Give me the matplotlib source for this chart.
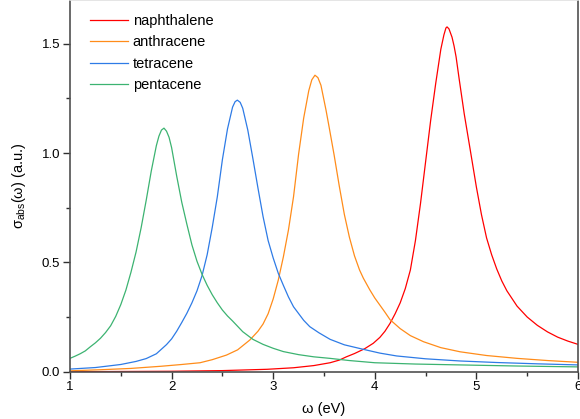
import matplotlib
matplotlib.use('Agg')
import matplotlib.pyplot as plt
from matplotlib.ticker import MultipleLocator, FormatStrFormatter

plt.rcParams['font.family'] = ['Liberation Sans', 'DejaVu Sans']
plt.rcParams['mathtext.fontset'] = 'custom'
plt.rcParams['mathtext.rm'] = 'Liberation Sans'
plt.rcParams['mathtext.it'] = 'Liberation Sans:italic'

# values
naph_x = [1.0, 1.5, 2.0, 2.5, 2.94, 3.2, 3.4, 3.56, 3.65, 3.72, 3.80, 3.90, 3.985, 4.05, 4.10, 4.15,
          4.20, 4.25, 4.30, 4.35, 4.40, 4.45, 4.50, 4.55, 4.60, 4.65, 4.68, 4.70, 4.711, 4.73,
          4.76, 4.78, 4.80, 4.83, 4.88, 4.937, 5.0, 5.05, 5.1, 5.15, 5.2, 5.25, 5.3, 5.4, 5.5,
          5.6, 5.7, 5.8, 5.9, 6.0]
naph_y = [0.0, 0.001, 0.002, 0.005, 0.011, 0.018, 0.028, 0.041, 0.053, 0.068, 0.083, 0.105, 0.13, 0.157, 0.185, 0.221,
          0.265, 0.315, 0.38, 0.465, 0.60, 0.77, 0.96, 1.15, 1.32, 1.475, 1.54, 1.572, 1.577, 1.568,
          1.53, 1.49, 1.44, 1.34, 1.18, 1.021, 0.844, 0.718, 0.612, 0.535, 0.47, 0.415, 0.37, 0.30, 0.25,
          0.212, 0.182, 0.158, 0.14, 0.125]

anth_x = [1.0, 1.3, 1.6, 1.9, 2.1, 2.28, 2.4, 2.54, 2.65, 2.77, 2.85, 2.90, 2.95, 3.00, 3.05, 3.10,
          3.15, 3.20, 3.25, 3.30, 3.35, 3.38, 3.411, 3.44, 3.47, 3.52, 3.55, 3.60, 3.65, 3.70,
          3.75, 3.80, 3.85, 3.887, 3.95, 4.0, 4.1, 4.15, 4.25, 4.35, 4.48, 4.65, 4.84, 5.1,
          5.4, 5.7, 6.0]
anth_y = [0.004, 0.009, 0.015, 0.025, 0.033, 0.041, 0.055, 0.076, 0.10, 0.145, 0.185, 0.218, 0.265, 0.333, 0.419, 0.525,
          0.648, 0.80, 0.995, 1.16, 1.285, 1.335, 1.356, 1.345, 1.31, 1.196, 1.12, 0.99, 0.85, 0.72,
          0.615, 0.53, 0.465, 0.428, 0.375, 0.337, 0.272, 0.238, 0.197, 0.165, 0.137, 0.11, 0.091, 0.074,
          0.061, 0.051, 0.043]

tetr_x = [1.0, 1.25, 1.5, 1.65, 1.75, 1.85, 1.95, 2.00, 2.05, 2.10, 2.15, 2.20, 2.25, 2.30, 2.35, 2.40,
          2.45, 2.50, 2.55, 2.60, 2.625, 2.647, 2.675, 2.70, 2.75, 2.80, 2.85, 2.90, 2.95, 3.00,
          3.05, 3.10, 3.15, 3.20, 3.30, 3.36, 3.45, 3.56, 3.7, 3.89, 4.05, 4.215, 4.5, 4.84,
          5.2, 5.6, 6.0]
tetr_y = [0.012, 0.019, 0.033, 0.047, 0.06, 0.082, 0.124, 0.15, 0.185, 0.225, 0.267, 0.315, 0.37, 0.44, 0.535, 0.66,
          0.80, 0.97, 1.11, 1.21, 1.235, 1.242, 1.232, 1.205, 1.105, 0.975, 0.84, 0.71, 0.60, 0.52,
          0.45, 0.395, 0.342, 0.297, 0.235, 0.206, 0.178, 0.148, 0.123, 0.102, 0.085, 0.072, 0.059, 0.049,
          0.042, 0.036, 0.031]

pent_x = [1.0, 1.05, 1.10, 1.15, 1.20, 1.25, 1.30, 1.35, 1.40, 1.45, 1.50, 1.55, 1.60, 1.65, 1.70, 1.75,
          1.80, 1.85, 1.875, 1.90, 1.925, 1.95, 1.975, 2.00, 2.05, 2.10, 2.15, 2.20, 2.25, 2.30,
          2.35, 2.40, 2.45, 2.50, 2.55, 2.60, 2.70, 2.80, 2.90, 3.0, 3.1, 3.25, 3.4, 3.559,
          3.75, 4.0, 4.4, 4.84, 5.4, 6.0]
pent_y = [0.061, 0.071, 0.082, 0.095, 0.114, 0.132, 0.153, 0.179, 0.21, 0.253, 0.307, 0.373, 0.455, 0.547, 0.658, 0.784,
          0.918, 1.034, 1.077, 1.105, 1.114, 1.10, 1.072, 1.025, 0.895, 0.775, 0.675, 0.58, 0.505, 0.445,
          0.395, 0.352, 0.315, 0.282, 0.255, 0.232, 0.183, 0.148, 0.125, 0.107, 0.092, 0.078, 0.068, 0.061,
          0.051, 0.041, 0.035, 0.031, 0.026, 0.022]

names = ['naphthalene', 'anthracene', 'tetracene', 'pentacene']
colors = ['#ff0000', '#ff8c1a', '#2e7be6', '#3cb371']

fig = plt.figure(figsize=(5.8, 4.19), dpi=100)
ax = fig.add_axes([70 / 580, 1 - 371.7 / 419, 508 / 580, 371.7 / 419])

series = [(naph_x, naph_y), (anth_x, anth_y), (tetr_x, tetr_y), (pent_x, pent_y)]
for (xs, ys), name, c in zip(series, names, colors):
    ax.plot(xs, ys, color=c, lw=0.9, label=name)

ax.set_xlim(1, 6)
ax.set_ylim(0, 1.7)
ax.xaxis.set_major_locator(MultipleLocator(1))
ax.xaxis.set_minor_locator(MultipleLocator(0.5))
ax.yaxis.set_major_locator(MultipleLocator(0.5))
ax.yaxis.set_minor_locator(MultipleLocator(0.25))
ax.yaxis.set_major_formatter(FormatStrFormatter('%.1f'))

for s in ax.spines.values():
    s.set_color('#505050')
    s.set_linewidth(1.2)
ax.spines['top'].set_color('#e0e0e0')
ax.tick_params(which='major', direction='out', length=5, width=1, color='#303030',
               labelsize=9.5, pad=2, top=False, right=False)
ax.tick_params(which='minor', direction='out', length=3, width=1, color='#303030',
               top=False, right=False)

ax.set_xlabel('ω (eV)', fontsize=10.5, labelpad=6)
ax.set_ylabel('σ$_{\\mathrm{abs}}$(ω) (a.u.)', fontsize=10.5, labelpad=10)

ax.legend(loc='upper left', bbox_to_anchor=(0.039, 0.962), frameon=False, fontsize=10.5,
          handlelength=2.6, handletextpad=0.35, labelspacing=0.5, borderaxespad=0, borderpad=0)

fig.savefig('out.png', dpi=100)
